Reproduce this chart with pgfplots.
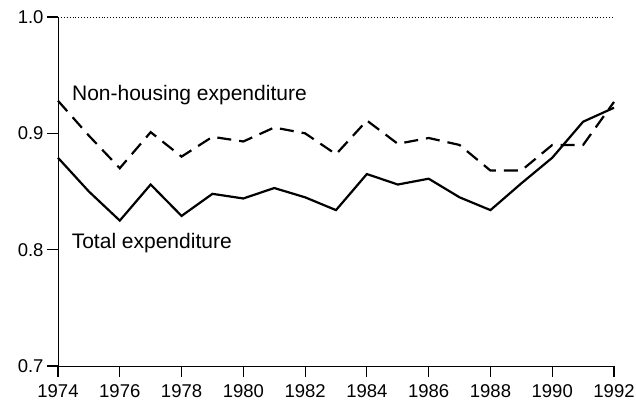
\documentclass[border=0pt]{standalone}
\usepackage{pgfplots}
\pgfplotsset{compat=1.18}
\usepackage{fontspec}
\setmainfont{Liberation Sans}
\begin{document}
\begin{tikzpicture}
\begin{axis}[
  name=ax,
  scale only axis,
  width=556pt, height=349pt,
  xmin=1974, xmax=1992, ymin=0.7, ymax=1.0,
  axis line style={draw=none},
  tick align=outside,
  xtick pos=bottom, ytick pos=left,
  major tick length=10pt,
  every tick/.append style={black, line width=1pt},
  xtick={1974,1976,...,1992},
  ytick={0.7,0.8,0.9,1.0},
  /pgf/number format/assume math mode=true,
  xticklabel style={/pgf/number format/1000 sep={}, font=\fontsize{18.5}{20}\selectfont, yshift=-5pt},
  yticklabel style={/pgf/number format/fixed, /pgf/number format/fixed zerofill, /pgf/number format/precision=1, font=\fontsize{18.5}{20}\selectfont, xshift=-1pt},
  clip=false,
]
% axis lines
\addplot[black, line width=1pt] coordinates {(1974,1.0) (1974,0.7) (1992,0.7)};
% tick marks
\pgfplotsinvokeforeach{1974,1976,1978,1980,1982,1984,1986,1988,1990,1992}{
  \addplot[black, line width=1.2pt] coordinates {(#1,0.7) (#1,0.6905)};
}
\pgfplotsinvokeforeach{0.7,0.8,0.9,1.0}{
  \addplot[black, line width=1.2pt] coordinates {(1974,#1) (1973.64,#1)};
}
\addplot[black, line width=0.9pt, dotted] coordinates {(1974,1.0) (1992,1.0)};
\addplot[black, line width=2.2pt, dash pattern=on 14pt off 8pt] coordinates {
(1974,0.928) (1975,0.898) (1976,0.870) (1977,0.901) (1978,0.880) (1979,0.897) (1980,0.893)
(1981,0.905) (1982,0.900) (1983,0.882) (1984,0.911) (1985,0.891) (1986,0.896)
(1987,0.890) (1988,0.868) (1989,0.868) (1990,0.890) (1991,0.890) (1992,0.927)};
\addplot[black, line width=2.2pt] coordinates {
(1974,0.879) (1975,0.850) (1976,0.825) (1977,0.856) (1978,0.829) (1979,0.848) (1980,0.844)
(1981,0.853) (1982,0.845) (1983,0.834) (1984,0.865) (1985,0.856) (1986,0.861)
(1987,0.845) (1988,0.834) (1989,0.857) (1990,0.879) (1991,0.910) (1992,0.922)};
\node[anchor=base west, inner sep=0pt, font=\fontsize{21}{24}\selectfont] at (axis cs:1974.45,0.9286) {Non-housing expenditure};
\node[anchor=base west, inner sep=0pt, font=\fontsize{21}{24}\selectfont] at (axis cs:1974.44,0.8011) {Total expenditure};
\end{axis}
\pgfresetboundingbox
\path ([shift={(-58pt,-39pt)}]ax.south west) rectangle ([shift={(22pt,17pt)}]ax.north east);
\end{tikzpicture}
\end{document}
